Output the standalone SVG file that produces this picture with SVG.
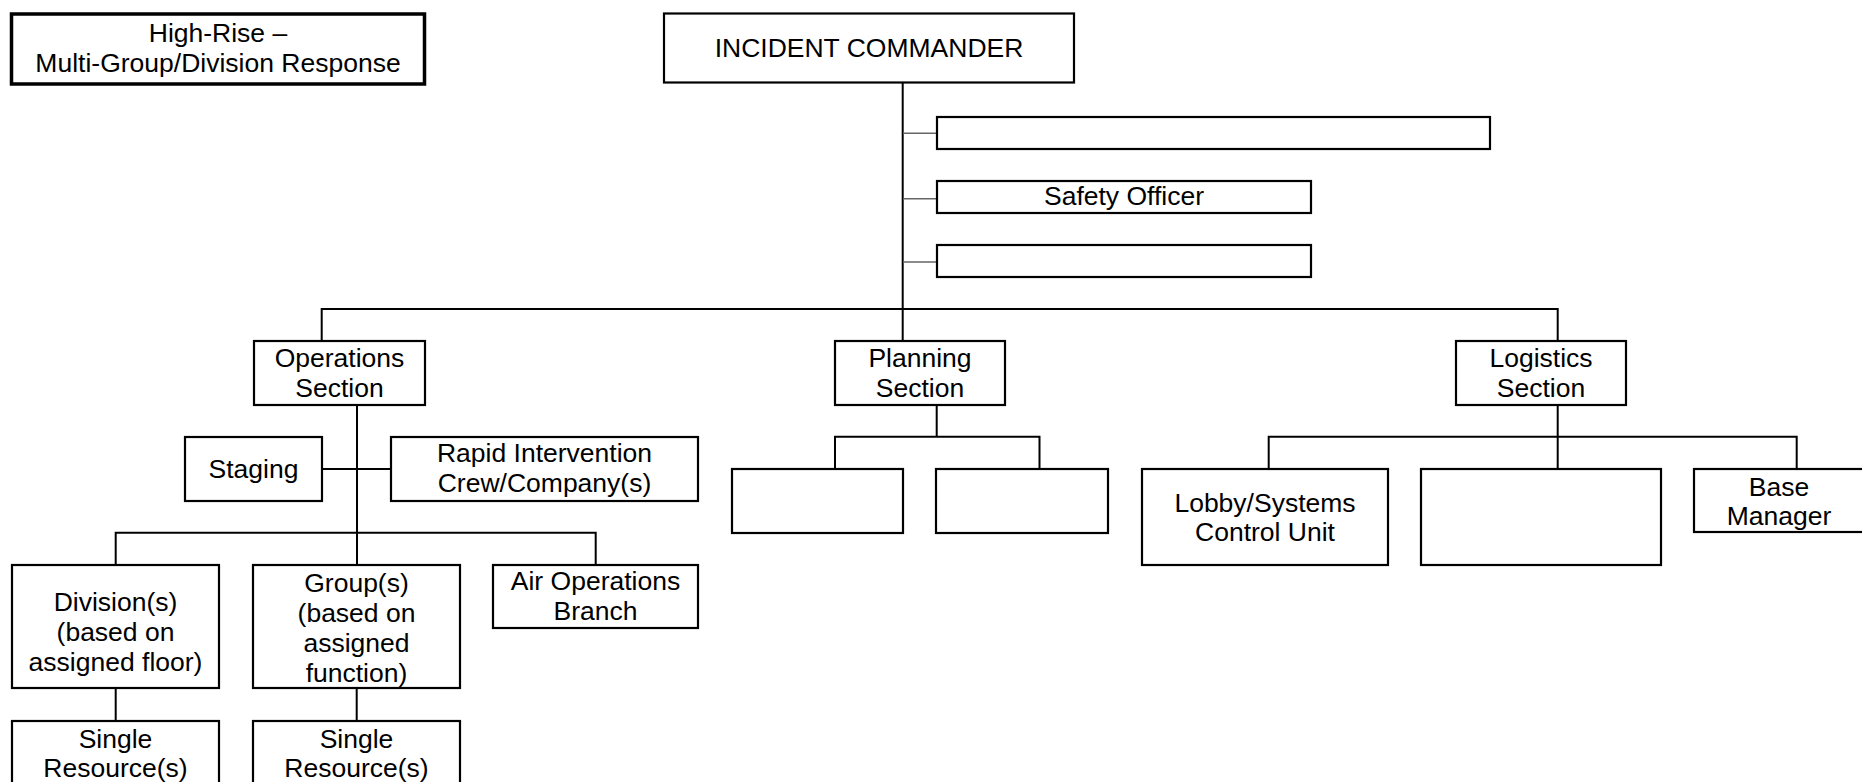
<svg xmlns="http://www.w3.org/2000/svg" width="1862" height="782" viewBox="0 0 1862 782">
<style>
  .box { fill: #fff; stroke: #000; stroke-width: 2.2; }
  .title { fill: #fff; stroke: #000; stroke-width: 3.5; }
  .t { font-family: "Liberation Sans", Arial, sans-serif; font-size: 26.5px; fill: #000; text-anchor: middle; }
  .c { fill: none; stroke: #000; stroke-width: 2; }
  .cg { fill: none; stroke: #666; stroke-width: 1.6; }
</style>
<rect x="0" y="0" width="1862" height="782" fill="#fff"/>

<g id="connectors">
  <path class="c" d="M902.7 82.5 V341"/>
  <path class="cg" d="M903 133.3 H937 M903 198.7 H937 M903 262 H937"/>
  <path class="c" d="M321.7 341 V309 H1557.7 V341"/>
  <path class="c" d="M357 405 V565"/>
  <path class="c" d="M322 469 H391"/>
  <path class="c" d="M115.7 565 V532.7 H595.7 V565"/>
  <path class="c" d="M115.7 688 V721 M356.7 688 V721"/>
  <path class="c" d="M936.7 405 V436.7 M835 469 V436.7 H1039.5 V469"/>
  <path class="c" d="M1557.7 405 V469 M1268.7 469 V436.7 H1796.7 V469"/>
</g>

<g id="title">
  <rect class="title" x="11.5" y="14" width="413" height="70"/>
  <text class="t" x="218" y="42">High-Rise –</text>
  <text class="t" x="218" y="72">Multi-Group/Division Response</text>
</g>

<g id="incident-commander">
  <rect class="box" x="664" y="13.5" width="410" height="69"/>
  <text class="t" x="869" y="57">INCIDENT COMMANDER</text>
</g>

<g id="staff-1">
  <rect class="box" x="937" y="117" width="553" height="32"/>
</g>
<g id="safety-officer">
  <rect class="box" x="937" y="181" width="374" height="32"/>
  <text class="t" x="1124" y="205">Safety Officer</text>
</g>
<g id="staff-3">
  <rect class="box" x="937" y="245" width="374" height="32"/>
</g>

<g id="operations">
  <rect class="box" x="254" y="341" width="171" height="64"/>
  <text class="t" x="339.5" y="366.5">Operations</text>
  <text class="t" x="339.5" y="396.5">Section</text>
</g>
<g id="planning">
  <rect class="box" x="835" y="341" width="170" height="64"/>
  <text class="t" x="920" y="366.5">Planning</text>
  <text class="t" x="920" y="396.5">Section</text>
</g>
<g id="logistics">
  <rect class="box" x="1456" y="341" width="170" height="64"/>
  <text class="t" x="1541" y="366.5">Logistics</text>
  <text class="t" x="1541" y="396.5">Section</text>
</g>

<g id="staging">
  <rect class="box" x="185" y="437" width="137" height="64"/>
  <text class="t" x="253.5" y="478">Staging</text>
</g>
<g id="rapid-intervention">
  <rect class="box" x="391" y="437" width="307" height="64"/>
  <text class="t" x="544.5" y="462">Rapid Intervention</text>
  <text class="t" x="544.5" y="492">Crew/Company(s)</text>
</g>

<g id="divisions">
  <rect class="box" x="12" y="565" width="207" height="123"/>
  <text class="t" x="115.5" y="610.5">Division(s)</text>
  <text class="t" x="115.5" y="640.5">(based on</text>
  <text class="t" x="115.5" y="670.5">assigned floor)</text>
</g>
<g id="groups">
  <rect class="box" x="253" y="565" width="207" height="123"/>
  <text class="t" x="356.5" y="592">Group(s)</text>
  <text class="t" x="356.5" y="622">(based on</text>
  <text class="t" x="356.5" y="652">assigned</text>
  <text class="t" x="356.5" y="682">function)</text>
</g>
<g id="air-operations">
  <rect class="box" x="493" y="565" width="205" height="63"/>
  <text class="t" x="595.5" y="590">Air Operations</text>
  <text class="t" x="595.5" y="620">Branch</text>
</g>

<g id="single-resources-1">
  <rect class="box" x="12" y="721" width="207" height="80"/>
  <text class="t" x="115.5" y="748">Single</text>
  <text class="t" x="115.5" y="777">Resource(s)</text>
</g>
<g id="single-resources-2">
  <rect class="box" x="253" y="721" width="207" height="80"/>
  <text class="t" x="356.5" y="748">Single</text>
  <text class="t" x="356.5" y="777">Resource(s)</text>
</g>

<g id="planning-unit-1">
  <rect class="box" x="732" y="469" width="171" height="64"/>
</g>
<g id="planning-unit-2">
  <rect class="box" x="936" y="469" width="172" height="64"/>
</g>

<g id="lobby-systems">
  <rect class="box" x="1142" y="469" width="246" height="96"/>
  <text class="t" x="1265" y="512">Lobby/Systems</text>
  <text class="t" x="1265" y="541">Control Unit</text>
</g>
<g id="logistics-unit">
  <rect class="box" x="1421" y="469" width="240" height="96"/>
</g>
<g id="base-manager">
  <rect class="box" x="1694" y="469" width="172" height="63"/>
  <text class="t" x="1779" y="496">Base</text>
  <text class="t" x="1779" y="525">Manager</text>
</g>
</svg>
